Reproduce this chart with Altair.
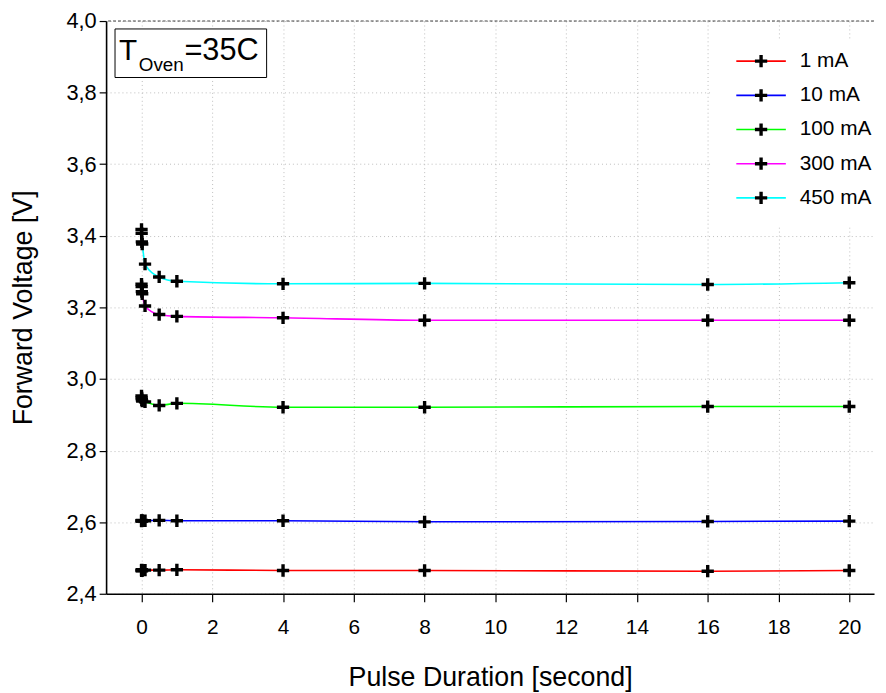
import altair as alt
import pandas as pd

# ---- data ----
durations = [0.001, 0.005, 0.01, 0.02, 0.1, 0.5, 1, 4, 8, 16, 20]
series_names = ["1 mA", "10 mA", "100 mA", "300 mA", "450 mA"]
series_colors = ["#ff0000", "#0000ff", "#00ff00", "#ff00ff", "#00ffff"]

v_1mA = [2.466, 2.464, 2.467, 2.465, 2.466, 2.466, 2.467, 2.465, 2.465, 2.463, 2.465]
v_10mA = [2.604, 2.603, 2.605, 2.604, 2.604, 2.605, 2.604, 2.604, 2.601, 2.602, 2.603]
v_100mA = [2.953, 2.947, 2.942, 2.938, 2.936, 2.926, 2.932, 2.921, 2.921, 2.923, 2.923]
v_300mA = [3.265, 3.258, 3.244, 3.238, 3.204, 3.180, 3.175, 3.171, 3.164, 3.164, 3.164]
v_450mA = [3.418, 3.407, 3.383, 3.377, 3.321, 3.285, 3.273, 3.266, 3.267, 3.264, 3.269]

x_ticks = [0, 2, 4, 6, 8, 10, 12, 14, 16, 18, 20]
y_ticks = [2.4, 2.6, 2.8, 3.0, 3.2, 3.4, 3.6, 3.8, 4.0]

rows = []
for name, vals in zip(series_names, [v_1mA, v_10mA, v_100mA, v_300mA, v_450mA]):
    for i, (d, v) in enumerate(zip(durations, vals)):
        rows.append({"series": name, "duration": d, "voltage": v, "order": i})
df = pd.DataFrame(rows)

FONT = "Liberation Sans"
SYM = 400  # symbol size: radius 10 for custom paths
CROSS = "M-0.62,-0.17H0.62V0.17H-0.62Z M-0.17,-0.62H0.17V0.62H-0.17Z"
LINE = "M-2.5,0H2.5"
SW = 1.6
LEG_X, LEG_Y = 650, 29.5
LEG_FONT = 21
LEG_ROWPAD = 13.5

x_enc = alt.X(
    "duration:Q",
    scale=alt.Scale(domain=[-1, 20.7], nice=False, zero=False),
    axis=alt.Axis(
        values=x_ticks, title="Pulse Duration [second]", grid=True,
        labelFontSize=21, titleFontSize=27, tickSize=8, labelPadding=15,
        titleY=72, titleBaseline="top", labelFlush=False,
    ),
)
y_enc = alt.Y(
    "voltage:Q",
    scale=alt.Scale(domain=[2.4, 4.0], nice=False, zero=False),
    axis=alt.Axis(
        values=y_ticks, title="Forward Voltage [V]", grid=True,
        labelExpr="replace(format(datum.value, '.1f'), '.', ',')",
        labelFontSize=22, titleFontSize=27, tickSize=7, labelPadding=3,
        titleX=-83, titleBaseline="middle", titleAngle=270, labelFlush=False,
    ),
)

lines = alt.Chart(df).mark_line(interpolate="monotone", strokeWidth=SW).encode(
    x=x_enc, y=y_enc, order="order:Q",
    color=alt.Color(
        "series:N", sort=series_names,
        scale=alt.Scale(domain=series_names, range=series_colors),
        legend=alt.Legend(
            orient="none", legendX=LEG_X, legendY=LEG_Y, title=None,
            symbolType=LINE, symbolSize=SYM, symbolStrokeWidth=SW,
            labelFontSize=LEG_FONT, labelOffset=28, rowPadding=LEG_ROWPAD, padding=0,
            labelFont=FONT,
        ),
    ),
)

points = alt.Chart(df).mark_point(
    filled=True, size=SYM, color="black", strokeWidth=0, opacity=1
).encode(
    x=x_enc, y=y_enc,
    shape=alt.Shape(
        "series:N", sort=series_names,
        scale=alt.Scale(domain=series_names, range=[CROSS] * 5),
        legend=alt.Legend(
            orient="none", legendX=LEG_X, legendY=LEG_Y, title=None,
            symbolSize=SYM, symbolFillColor="black", symbolStrokeColor="black",
            symbolStrokeWidth=SW, symbolOpacity=1,
            labelFontSize=LEG_FONT, labelOffset=28, rowPadding=LEG_ROWPAD, padding=0,
            labelOpacity=0, labelFont=FONT,
        ),
    ),
)

top_rule = alt.Chart(pd.DataFrame({"v": [4.0]})).mark_rule(
    color="#444444", strokeDash=[3, 2], strokeWidth=1.2
).encode(y=alt.Y("v:Q"))

legend_bg = alt.Chart(pd.DataFrame({"a": [0]})).mark_rect(fill="white").encode(
    x=alt.value(612), x2=alt.value(775), y=alt.value(20), y2=alt.value(208)
)

box = alt.Chart(pd.DataFrame({"a": [0]})).mark_rect(
    fill="white", stroke="black", strokeWidth=1
).encode(x=alt.value(9), x2=alt.value(162), y=alt.value(8), y2=alt.value(57))

t_main = alt.Chart(pd.DataFrame({"a": [0]})).mark_text(
    text="T", align="left", baseline="alphabetic", fontSize=30, font=FONT
).encode(x=alt.value(13), y=alt.value(39))
t_sub = alt.Chart(pd.DataFrame({"a": [0]})).mark_text(
    text="Oven", align="left", baseline="alphabetic", fontSize=19, font=FONT
).encode(x=alt.value(33), y=alt.value(50))
t_rest = alt.Chart(pd.DataFrame({"a": [0]})).mark_text(
    text="=35C", align="left", baseline="alphabetic", fontSize=31, font=FONT
).encode(x=alt.value(79), y=alt.value(39))

chart = alt.layer(
    legend_bg, lines, points, top_rule, box, t_main, t_sub, t_rest
).resolve_legend(color="independent", shape="independent").properties(
    width=775, height=578,
    autosize=alt.AutoSizeParams(type="none"),
    padding={"left": 99, "top": 10, "right": 4, "bottom": 97},
).configure_view(stroke=None).configure_axis(
    domainColor="black", domainWidth=1.6, tickColor="black", tickWidth=1.2,
    gridColor="#bdbdbd", gridDash=[1, 3], gridWidth=1,
    labelFont=FONT, titleFont=FONT, labelColor="black", titleColor="black",
    titleFontWeight="normal",
).configure_legend(labelFont=FONT, labelColor="black")

chart.save("out.html", embed_options={"renderer": "svg", "actions": False})
